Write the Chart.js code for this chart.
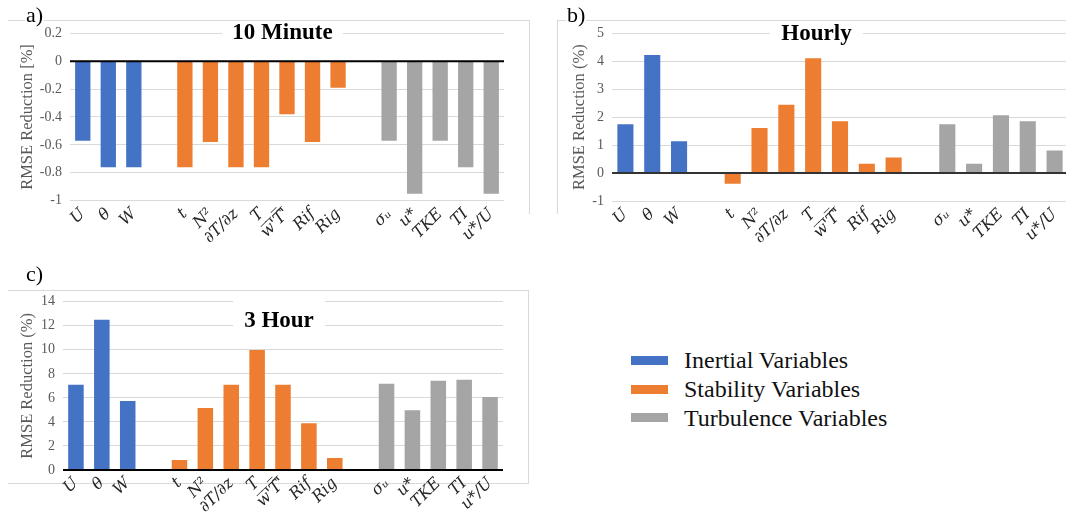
<!DOCTYPE html>
<html>
<head>
<meta charset="utf-8">
<script src="https://cdn.jsdelivr.net/npm/chart.js@4.4.0/dist/chart.umd.min.js"></script>
<style>
  html, body { margin: 0; padding: 0; background: #fff; overflow: hidden; }
  body { width: 1066px; height: 523px; position: relative; font-family: 'Liberation Serif', 'DejaVu Serif', serif; }
  .panel { position: absolute; }
  .frame { position: absolute; border: 0 solid #d9d9d9; box-sizing: border-box; }
  .tag { position: absolute; font-size: 22px; line-height: 20px; background: #fff; color: #000; padding: 0 1px; }
  .title { position: absolute; background: #fff; font-weight: bold; font-size: 23px; text-align: center; color: #000; white-space: nowrap; }
  .row { position: absolute; left: 684px; height: 28px; line-height: 28px; font-size: 24px; color: #111; white-space: nowrap; }
  .swatch { position: absolute; left: 631px; width: 37px; height: 9px; }
</style>
</head>
<body>
  <div class="frame" style="left:8px; top:20px; width:522px; height:194px; border-top-width:1px; border-right-width:1px;"></div>
  <div class="frame" style="left:557px; top:20px; width:520px; height:194px; border-top-width:1px; border-left-width:1px;"></div>
  <div class="frame" style="left:8px; top:290px; width:521px; height:194px; border-top-width:1px; border-right-width:1px; border-bottom-width:1px;"></div>

  <div class="panel" style="left:0; top:0; width:520px; height:260px;"><canvas id="chartA"></canvas></div>
  <div class="panel" style="left:540px; top:0; width:540px; height:260px;"><canvas id="chartB"></canvas></div>
  <div class="panel" style="left:0; top:250px; width:520px; height:273px;"><canvas id="chartC"></canvas></div>

  <div class="tag" style="left:25px; top:5px;">a)</div>
  <div class="tag" style="left:566px; top:5px;">b)</div>
  <div class="tag" style="left:25px; top:264px;">c)</div>

  <div class="title" style="left:222px; top:22px; width:121px; height:19px; line-height:19px;">10 Minute</div>
  <div class="title" style="left:770px; top:23px; width:93px; height:19px; line-height:19px;">Hourly</div>
  <div class="title" style="left:233px; top:299px; width:92px; height:22px; padding-top:10px; line-height:22px;">3 Hour</div>

  <div id="legend"></div>

<script>
const categories = ['U', 'θ', 'W', '', 't', 'N²', '∂T/∂z', 'T', "w̅'̅T̅'̅", 'Rif', 'Rig', '', 'σᵤ', 'u*', 'TKE', 'TI', 'u*/U'];
const groupNames = ['Inertial Variables', 'Stability Variables', 'Turbulence Variables'];
const groupColors = ['#4472C4', '#ED7D31', '#A5A5A5'];
const groupStart = [0, 4, 12];

const tenMinInertial = [-0.57, -0.76, -0.76];
const tenMinStability = [-0.76, -0.58, -0.76, -0.76, -0.38, -0.58, -0.19];
const tenMinTurbulence = [-0.57, -0.95, -0.57, -0.76, -0.95];

const hourlyInertial = [1.75, 4.22, 1.14];
const hourlyStability = [-0.38, 1.61, 2.44, 4.11, 1.85, 0.33, 0.56];
const hourlyTurbulence = [1.75, 0.33, 2.07, 1.85, 0.81];

const threeHourInertial = [7.1, 12.5, 5.74];
const threeHourStability = [0.83, 5.16, 7.1, 9.98, 7.1, 3.88, 1.0];
const threeHourTurbulence = [7.18, 4.96, 7.43, 7.51, 6.07];

function spread(values, start) {
  const out = categories.map(() => null);
  values.forEach((v, i) => { out[start + i] = v; });
  return out;
}

const zeroLine = {
  id: 'zeroLine',
  afterDatasetsDraw(chart, args, opts) {
    const y = chart.scales.y.getPixelForValue(0);
    const { left, right } = chart.chartArea;
    const ctx = chart.ctx;
    ctx.save();
    ctx.strokeStyle = opts.color || '#000';
    ctx.lineWidth = 2;
    ctx.beginPath();
    ctx.moveTo(left, y);
    ctx.lineTo(right, y);
    ctx.stroke();
    ctx.restore();
  }
};

function makePanel(id, groups, p) {
  const datasets = groups.map((vals, g) => ({
    label: groupNames[g],
    data: spread(vals, groupStart[g]),
    backgroundColor: groupColors[g],
    grouped: false,
    barPercentage: 0.6,
    categoryPercentage: 1.0
  }));
  new Chart(document.getElementById(id), {
    type: 'bar',
    data: { labels: categories, datasets },
    plugins: [zeroLine],
    options: {
      responsive: true,
      maintainAspectRatio: false,
      animation: false,
      layout: { padding: { left: p.padLeft, right: p.padRight, top: p.padTop, bottom: 0 } },
      plugins: {
        legend: { display: false },
        tooltip: { enabled: false },
        zeroLine: { color: p.zeroColor }
      },
      scales: {
        x: {
          ticks: {
            color: '#262626',
            font: { family: 'DejaVu Serif', size: 16, style: 'italic' },
            minRotation: 45, maxRotation: 45, autoSkip: false, padding: 4
          },
          grid: { display: false, drawTicks: false },
          border: { display: false },
          afterFit(s) { s.height = p.xHeight; s.paddingLeft = 0; s.paddingRight = 0; }
        },
        y: {
          min: p.min, max: p.max,
          ticks: {
            stepSize: p.step,
            color: '#595959',
            font: { family: 'Liberation Serif', size: 14 },
            padding: 8,
            callback: (v) => String(parseFloat(Number(v).toFixed(2)) + 0)
          },
          grid: { color: '#d9d9d9', drawTicks: false },
          border: { display: false },
          title: {
            display: true, text: p.yTitle, color: '#595959',
            font: { family: 'Liberation Serif', size: 16.5 },
            padding: { top: 0, bottom: 0 }
          },
          afterFit(s) { s.width = p.yWidth; s.paddingTop = 0; s.paddingBottom = 0; }
        }
      }
    }
  });
}

makePanel('chartA', [tenMinInertial, tenMinStability, tenMinTurbulence], {
  min: -1, max: 0.2, step: 0.2, yTitle: 'RMSE Reduction [%]',
  padLeft: 18, yWidth: 52, padRight: 16, padTop: 33.3, xHeight: 59.3, zeroColor: '#000'
});
makePanel('chartB', [hourlyInertial, hourlyStability, hourlyTurbulence], {
  min: -1, max: 5, step: 1, yTitle: 'RMSE Reduction (%)',
  padLeft: 30, yWidth: 42, padRight: 12, padTop: 33.3, xHeight: 59, zeroColor: '#333'
});
makePanel('chartC', [threeHourInertial, threeHourStability, threeHourTurbulence], {
  min: 0, max: 14, step: 2, yTitle: 'RMSE Reduction (%)',
  padLeft: 18, yWidth: 45, padRight: 17, padTop: 51.7, xHeight: 53, zeroColor: '#000'
});

const legend = document.getElementById('legend');
const rowCenters = [360.3, 389, 417.7];
groupNames.forEach((name, i) => {
  const sw = document.createElement('div');
  sw.className = 'swatch';
  sw.style.top = (rowCenters[i] - 4.5) + 'px';
  sw.style.background = groupColors[i];
  legend.appendChild(sw);
  const row = document.createElement('div');
  row.className = 'row';
  row.style.top = (rowCenters[i] - 14) + 'px';
  row.textContent = name;
  legend.appendChild(row);
});
</script>
</body>
</html>
